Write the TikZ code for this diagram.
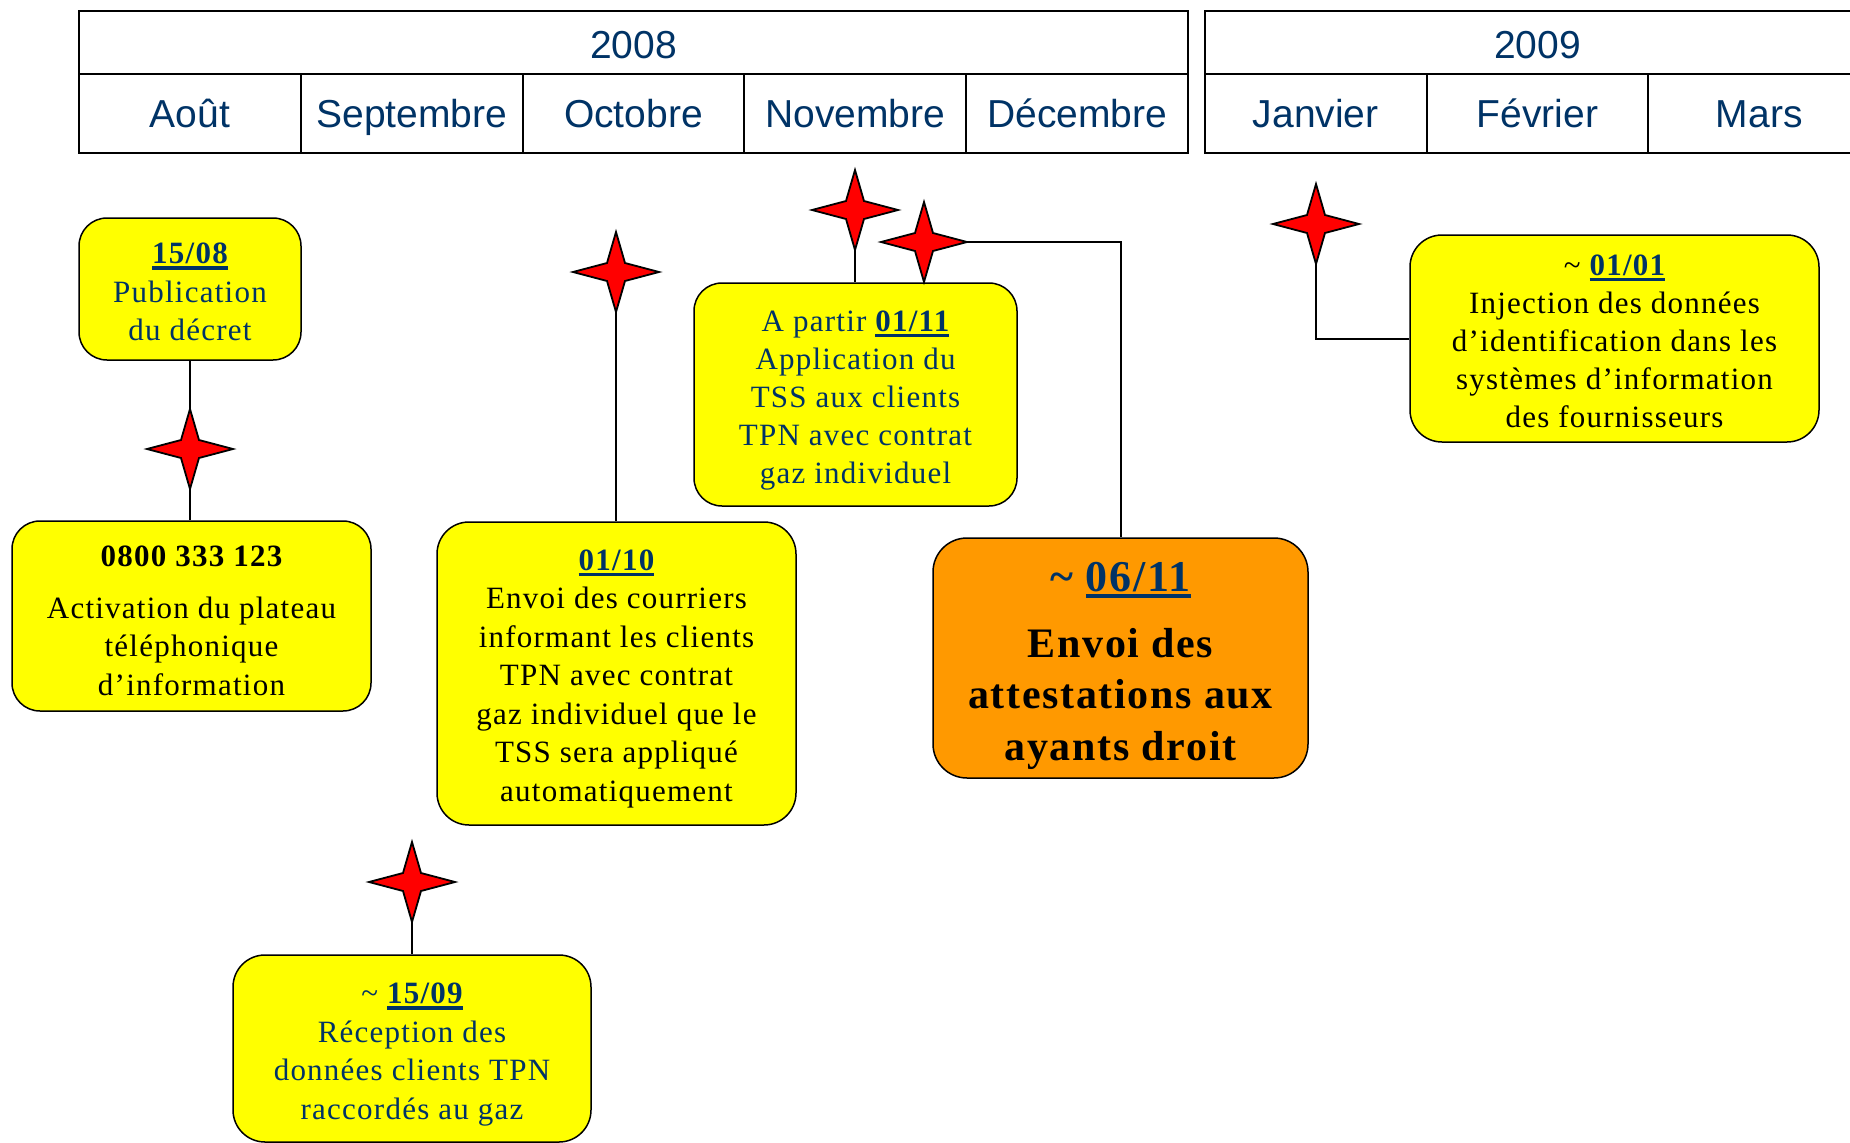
\documentclass[tikz,border=0pt]{standalone}
\usepackage{fontspec}
\setmainfont{Liberation Serif}[LetterSpace=4]
\newfontfamily\hdrfont{Liberation Sans}
\definecolor{navy}{HTML}{003366}
\definecolor{boxyellow}{HTML}{FFFF00}
\definecolor{boxorange}{HTML}{FF9900}
\newcommand\dateul[1]{\setbox0\hbox{#1}\rlap{\rule[-6pt]{\wd0}{3.5pt}}\box0}
\newcommand\defstar[3]{%
  \coordinate (#1) at (#2,#3);
  \coordinate (#1-t) at (#2,#3-40);
  \coordinate (#1-b) at (#2,#3+40);
  \coordinate (#1-l) at (#2-43,#3);
  \coordinate (#1-r) at (#2+43,#3);
}
\newcommand\drawstar[1]{%
  \draw[sparkle, shift={(#1)}] (0,-40) -- (9,-9) -- (43,0) -- (9,9) -- (0,40)
    -- (-9,9) -- (-43,0) -- (-9,-9) -- cycle;
}
\tikzset{
  evt/.style={draw=black, line width=1.5pt, rounded corners=28pt, fill=boxyellow, inner sep=0pt},
  evttext/.style={align=center, inner sep=0pt, font=\fontsize{31}{38.5}\selectfont},
  hcell/.style={draw=black, line width=2pt, inner sep=0pt, text height=28pt, text depth=0pt,
    font=\hdrfont\fontsize{39}{39}\selectfont, text=navy},
  conn/.style={draw=black, line width=2pt},
  sparkle/.style={draw=black, line width=1.8pt, fill=red, line join=miter, miter limit=20},
}
\begin{document}
\begin{tikzpicture}[x=1pt,y=-1pt]
\useasboundingbox (0,0) rectangle (1850,1143);
\fill[white] (0,0) rectangle (1850,1143);

% header 2008
\node[hcell, minimum width=1109pt, minimum height=63.4pt, text height=32pt] (y2008) at (633.5,42.3) {2008};
\node[hcell, minimum width=221.8pt, minimum height=79pt] (aou) at (189.9,113.5) {Août};
\node[hcell, minimum width=221.8pt, minimum height=79pt] (sep) at (411.7,113.5) {Septembre};
\node[hcell, minimum width=221.8pt, minimum height=79pt] (oct) at (633.5,113.5) {Octobre};
\node[hcell, minimum width=221.8pt, minimum height=79pt] (nov) at (855.3,113.5) {Novembre};
\node[hcell, minimum width=221.8pt, minimum height=79pt] (dec) at (1077.1,113.5) {Décembre};
% header 2009
\node[hcell, minimum width=665pt, minimum height=63.4pt, text height=32pt] (y2009) at (1537.5,42.3) {2009};
\node[hcell, minimum width=221.7pt, minimum height=79pt] (jan) at (1315.8,113.5) {Janvier};
\node[hcell, minimum width=221.7pt, minimum height=79pt] (fev) at (1537.5,113.5) {Février};
\node[hcell, minimum width=221.7pt, minimum height=79pt] (mar) at (1759.2,113.5) {Mars};

% stars (positions)
\defstar{sA}{190}{449}
\defstar{sC}{616}{272}
\defstar{sD1}{855}{210}
\defstar{sD2}{924}{242}
\defstar{sF}{1316}{224}
\defstar{sG}{412}{882}

% boxes
\node[evt, minimum width=222pt, minimum height=142pt] (boxA) at (190,289) {};
\node[evttext, text=navy] (txtA) at ([yshift=-3pt]boxA.center)
  {{\bfseries\dateul{15/08}}\\Publication\\du décret};

\node[evt, minimum width=359pt, minimum height=190pt] (boxB) at (191.5,616) {};
\node[evttext, text=black] (txtB) at ([yshift=-5pt]boxB.center)
  {{\bfseries 0800 333 123}\\[13pt]Activation du plateau\\téléphonique\\d’information};

\node[evt, minimum width=359pt, minimum height=303pt, rounded corners=32pt] (boxC) at (616.5,673.5) {};
\node[evttext, text=black] (txtC) at ([yshift=-5pt]boxC.center)
  {{\bfseries\color{navy}\dateul{01/10}}\\Envoi des courriers\\informant les clients\\TPN avec contrat\\gaz individuel que le\\TSS sera appliqué\\automatiquement};

\node[evt, minimum width=323pt, minimum height=223pt] (boxD) at (855.5,394.5) {};
\node[evttext, text=navy, font=\fontsize{31}{38}\selectfont] (txtD) at ([yshift=-6pt]boxD.center)
  {A partir {\bfseries\dateul{01/11}}\\Application du\\TSS aux clients\\TPN avec contrat\\gaz individuel};

\node[evt, fill=boxorange, minimum width=375pt, minimum height=240pt, rounded corners=34pt] (boxE) at (1120.5,658) {};
\node[evttext, text=black, font=\fontsize{42}{51.5}\selectfont\bfseries] (txtE) at ([yshift=-8pt]boxE.center)
  {{\fontsize{44}{51.5}\selectfont\color{navy}\textasciitilde\ \dateul{06/11}}\\[14pt]Envoi des\\attestations aux\\ayants droit};

\node[evt, minimum width=409pt, minimum height=207pt, rounded corners=32pt] (boxF) at (1614.5,338.5) {};
\node[evttext, text=black, font=\fontsize{31}{38}\selectfont] (txtF) at ([yshift=-2.5pt]boxF.center)
  {\textasciitilde\ {\bfseries\color{navy}\dateul{01/01}}\\Injection des données\\d’identification dans les\\systèmes d’information\\des fournisseurs};

\node[evt, minimum width=358pt, minimum height=187pt, rounded corners=32pt] (boxG) at (412,1048.5) {};
\node[evttext, text=navy] (txtG) at ([yshift=-6pt]boxG.center)
  {\textasciitilde\ {\bfseries\dateul{15/09}}\\Réception des\\données clients TPN\\raccordés au gaz};

% connectors
\draw[conn] (boxA.south) -- (boxA.south |- boxB.north);
\draw[conn] (sC-b) -- (sC-b |- boxC.north);
\draw[conn] (sD1-b) -- (sD1-b |- boxD.north);
\draw[conn] (sD2-r) -| (boxE.north);
\draw[conn] (sF-b) |- (boxF.west);
\draw[conn] (sG-b) -- (sG-b |- boxG.north);

% stars drawn on top
\drawstar{sA}
\drawstar{sC}
\drawstar{sD1}
\drawstar{sD2}
\drawstar{sF}
\drawstar{sG}
\end{tikzpicture}
\end{document}
